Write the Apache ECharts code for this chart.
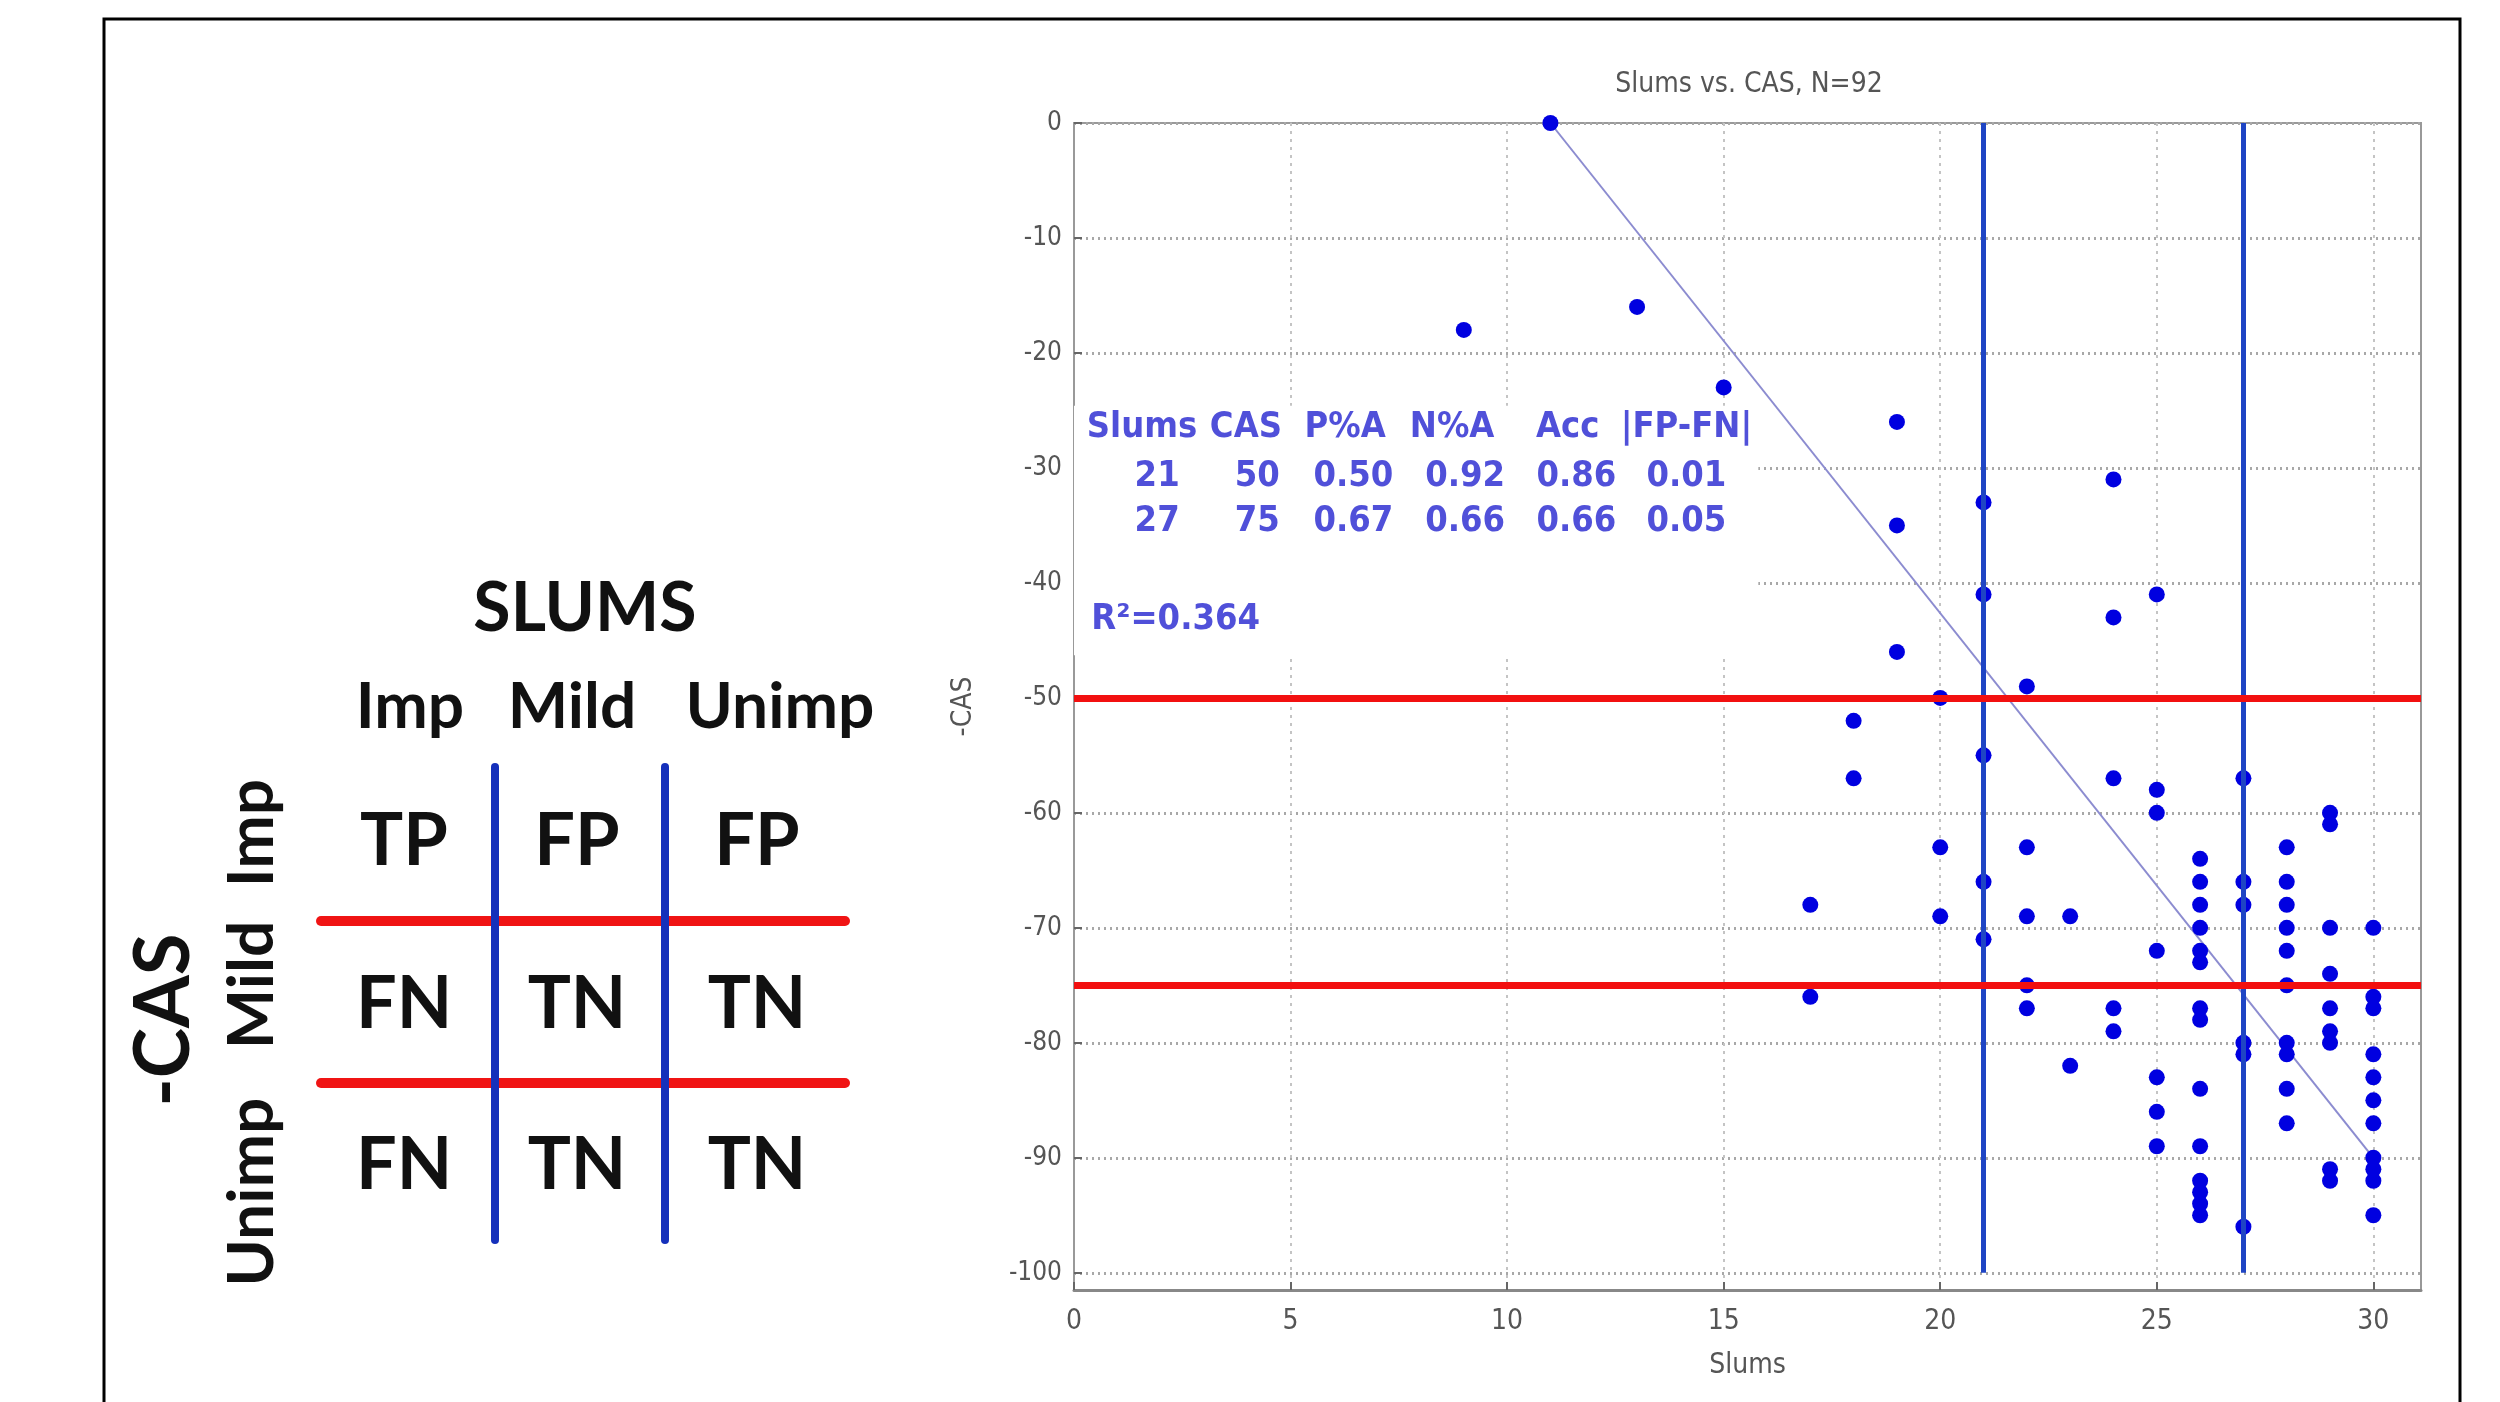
<!DOCTYPE html>
<html>
<head>
<meta charset="utf-8">
<script src="https://cdn.jsdelivr.net/npm/echarts@6/dist/echarts.min.js"></script>
<style>
  html, body { margin: 0; padding: 0; background: #fff; }
  #chart { width: 2500px; height: 1402px; }
</style>
</head>
<body>
<div id="chart"></div>
<script>
// one entry per subject: SLUMS score and negated CAS score
const slumsScores = [
    9, 11, 13, 15,
    17, 17,
    18, 18,
    19, 19, 19,
    20, 20, 20,
    21, 21, 21, 21, 21,
    22, 22, 22, 22, 22,
    23, 23,
    24, 24, 24, 24, 24,
    25, 25, 25, 25, 25, 25, 25,
    26, 26, 26, 26, 26, 26, 26, 26, 26, 26, 26, 26, 26, 26,
    27, 27, 27, 27, 27, 27,
    28, 28, 28, 28, 28, 28, 28, 28, 28, 28,
    29, 29, 29, 29, 29, 29, 29, 29, 29,
    30, 30, 30, 30, 30, 30, 30, 30, 30, 30, 30,
];
const negCasScores = [
    -18, 0, -16, -23,
    -68, -76,
    -52, -57,
    -26, -35, -46,
    -50, -63, -69,
    -33, -41, -55, -66, -71,
    -49, -63, -69, -75, -77,
    -69, -82,
    -31, -43, -57, -77, -79,
    -41, -58, -60, -72, -83, -86, -89,
    -64, -66, -68, -70, -72, -73, -77, -78, -84, -89, -92, -93, -94, -95,
    -57, -66, -68, -80, -81, -96,
    -63, -66, -68, -70, -72, -75, -80, -81, -84, -87,
    -60, -61, -70, -74, -77, -79, -80, -91, -92,
    -70, -76, -77, -81, -83, -85, -87, -90, -91, -92, -95,
];

const casCutoffs = [-50, -75];
const slumsCutoffs = [21, 27];
const fitStart = [11, 0];
const fitEnd = [30, -90];

const xTicks = [0, 5, 10, 15, 20, 25, 30];
const yTicks = [0, -10, -20, -30, -40, -50, -60, -70, -80, -90, -100];

const chartTitle = 'Slums vs. CAS, N=92';
const tableHeader = ['Slums', 'CAS', 'P%A', 'N%A', 'Acc', '|FP-FN|'];
const tableRows = [
    ['21', '50', '0.50', '0.92', '0.86', '0.01'],
    ['27', '75', '0.67', '0.66', '0.66', '0.05'],
];
const fitNote = 'R²=0.364';

// left-hand schematic
const schemeTitle = 'SLUMS';
const schemeCols = ['Imp', 'Mild', 'Unimp'];
const schemeRows = ['Imp', 'Mild', 'Unimp'];
const schemeAxis = '-CAS';
const schemeCells = [
    ['TP', 'FP', 'FP'],
    ['FN', 'TN', 'TN'],
    ['FN', 'TN', 'TN'],
];

// ---- layout ----
const narrow = "'Liberation Sans Narrow', 'DejaVu Sans Condensed', 'Liberation Sans', sans-serif";
const bold = "Lato, 'Open Sans', sans-serif";
const tableLayout = {
    headerX: [1.57, 3.97, 6.26, 8.73, 11.4, 14.14],
    rowX: [1.92, 4.23, 6.45, 9.03, 11.6, 14.14],
    rowY: [-26.5, -30.8, -34.7],
    noteX: 0.4,
    noteY: -43.2,
    box: [[0, -24.6], [15.8, -46.3]],
};
const scheme = {
    titleY: 609,
    colLabelX: [410, 572, 780],
    colLabelY: 707,
    cellX: [404, 577, 757],
    rowY: [842, 1005, 1166],
    rowLabelX: 252,
    rowLabelY: [833, 985, 1192],
    axisX: 164,
    axisY: 1020,
    vLinesX: [495, 665],
    vLineTop: 767,
    vLineBottom: 1240,
    hLinesY: [921, 1083],
    hLineLeft: 321,
    hLineRight: 845,
};

const points = slumsScores.map((s, i) => [s, negCasScores[i]]);

const tableData = [];
tableHeader.forEach((t, i) => tableData.push([tableLayout.headerX[i], tableLayout.rowY[0], t]));
tableRows.forEach((row, r) => {
    row.forEach((t, i) => tableData.push([tableLayout.rowX[i], tableLayout.rowY[r + 1], t]));
});
tableData.push({ value: [tableLayout.noteX, tableLayout.noteY, fitNote], label: { align: 'left' } });

const graphics = [];
// outer frame
graphics.push({
    type: 'polyline',
    shape: { points: [[104, 1402], [104, 19], [2460, 19], [2460, 1402]] },
    style: { stroke: '#000', lineWidth: 3, fill: null },
});
const bigText = (text, x, y, size, rotation) => ({
    type: 'text',
    x, y,
    rotation: rotation || 0,
    style: {
        text,
        x: 0, y: 0,
        align: 'center',
        verticalAlign: 'middle',
        font: `bold ${size}px ${bold}`,
        fill: '#111',
    },
});
graphics.push(bigText(schemeTitle, 585, scheme.titleY, 68));
schemeCols.forEach((t, i) => graphics.push(bigText(t, scheme.colLabelX[i], scheme.colLabelY, 64)));
schemeCells.forEach((row, r) => {
    row.forEach((t, c) => graphics.push(bigText(t, scheme.cellX[c], scheme.rowY[r], 72)));
});
schemeRows.forEach((t, r) => graphics.push(bigText(t, scheme.rowLabelX, scheme.rowLabelY[r], 64, Math.PI / 2)));
graphics.push(bigText(schemeAxis, scheme.axisX, scheme.axisY, 76, Math.PI / 2));
scheme.hLinesY.forEach((y) => graphics.push({
    type: 'line',
    shape: { x1: scheme.hLineLeft, y1: y, x2: scheme.hLineRight, y2: y },
    style: { stroke: '#f01414', lineWidth: 10, lineCap: 'round' },
}));
scheme.vLinesX.forEach((x) => graphics.push({
    type: 'line',
    shape: { x1: x, y1: scheme.vLineTop, x2: x, y2: scheme.vLineBottom },
    style: { stroke: '#1530bb', lineWidth: 8, lineCap: 'round' },
}));

const chart = echarts.init(document.getElementById('chart'), null, { renderer: 'canvas' });

const option = {
    animation: false,
    backgroundColor: '#fff',
    textStyle: { fontFamily: narrow },
    title: {
        text: chartTitle,
        left: 1744,
        top: 66,
        textAlign: 'center',
        textStyle: { fontFamily: narrow, fontSize: 28, fontWeight: 'normal', color: '#555' },
    },
    grid: {
        left: 1074,
        top: 123,
        width: 1347,
        height: 1167,
        outerBoundsMode: 'none',
        show: true,
        borderColor: '#999',
        borderWidth: 2,
        backgroundColor: 'transparent',
    },
    xAxis: {
        type: 'value',
        min: 0,
        max: 31.1,
        name: 'Slums',
        nameLocation: 'middle',
        nameGap: 62,
        nameTextStyle: { fontFamily: narrow, fontSize: 28, color: '#555' },
        axisLine: { show: true, onZero: false, lineStyle: { color: '#888', width: 3 } },
        axisTick: { show: true, inside: true, length: 8, customValues: xTicks, lineStyle: { color: '#666', width: 2 } },
        axisLabel: { customValues: xTicks, margin: 18, fontFamily: narrow, fontSize: 28, color: '#555' },
        splitLine: { show: true, lineStyle: { color: '#c4c4c4', width: 2, type: [3, 5] } },
    },
    yAxis: {
        type: 'value',
        min: -101.5,
        max: 0,
        name: '-CAS',
        nameLocation: 'middle',
        nameGap: 96,
        nameTextStyle: { fontFamily: narrow, fontSize: 28, color: '#555' },
        axisLine: { show: true, onZero: false, lineStyle: { color: '#999', width: 2 } },
        axisTick: { show: true, inside: true, length: 8, customValues: yTicks, lineStyle: { color: '#666', width: 2 } },
        axisLabel: { customValues: yTicks, margin: 12, fontFamily: narrow, fontSize: 26, color: '#555' },
        splitLine: { show: true, lineStyle: { color: '#a8a8a8', width: 3, type: [2, 4] } },
    },
    graphic: graphics,
    series: [
        {
            name: 'fit',
            type: 'line',
            z: 2,
            data: [fitStart, fitEnd],
            symbol: 'none',
            lineStyle: { color: '#8c8cd0', width: 2 },
            markArea: {
                silent: true,
                itemStyle: { color: '#fff', opacity: 1 },
                data: [[{ coord: tableLayout.box[0] }, { coord: tableLayout.box[1] }]],
            },
        },
        {
            name: 'slums cutoffs',
            type: 'line',
            z: 2,
            data: [],
            markLine: {
                silent: true,
                symbol: 'none',
                label: { show: false },
                lineStyle: { color: '#1f45c4', width: 5, type: 'solid' },
                data: slumsCutoffs.map((x) => [
                    { coord: [x, yTicks[0]] },
                    { coord: [x, yTicks[yTicks.length - 1]] },
                ]),
            },
        },
        {
            name: 'subjects',
            type: 'scatter',
            z: 3,
            data: points,
            symbol: 'circle',
            symbolSize: 16,
            itemStyle: { color: '#0000e0', opacity: 1 },
        },
        {
            name: 'cas cutoffs',
            type: 'line',
            z: 4,
            data: [],
            markLine: {
                silent: true,
                symbol: 'none',
                label: { show: false },
                lineStyle: { color: '#f21010', width: 7, type: 'solid' },
                data: casCutoffs.map((y) => ({ yAxis: y })),
            },
        },
        {
            name: 'table',
            type: 'scatter',
            z: 5,
            data: tableData,
            symbolSize: 1,
            itemStyle: { color: 'transparent' },
            label: {
                show: true,
                position: 'inside',
                formatter: (p) => p.value[2],
                fontFamily: narrow,
                fontSize: 36,
                fontWeight: 'bold',
                color: '#2424d0',
            },
        },
    ],
};

chart.setOption(option);
</script>
</body>
</html>
